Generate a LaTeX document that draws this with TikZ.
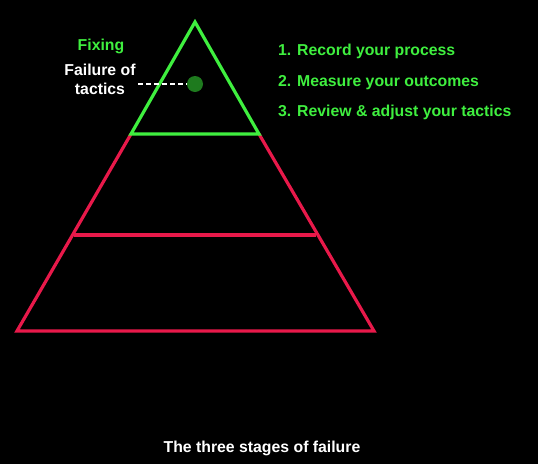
\documentclass[tikz,border=0pt]{standalone}
\usepackage{fontspec}
\setmainfont{Liberation Sans}
\definecolor{gr}{HTML}{3FEF3F}
\definecolor{rd}{HTML}{E8194A}
\definecolor{dot}{HTML}{1E7A1E}
\begin{document}
\begin{tikzpicture}[x=1pt,y=-1pt,
  green line/.style={draw=gr,line width=3.2pt,line join=miter},
  red line/.style={draw=rd,line width=3.2pt,line join=miter},
  txt/.style={font=\fontsize{15.8}{19}\selectfont\bfseries,inner sep=0pt},
  lbl/.style={txt,anchor=base west}]
\fill[black] (0,0) rectangle (538,464);
\useasboundingbox (0,0) rectangle (538,464);
\coordinate (apex) at (195,22);
\coordinate (gl) at (131,134);
\coordinate (gr) at (259,134);
\coordinate (ml) at (74,235);
\coordinate (mr) at (316,235);
\coordinate (bl) at (17,331);
\coordinate (br) at (374,331);
\draw[red line] (gl) -- (bl) -- (br) -- (gr);
\draw[red line] (ml) -- (mr);
\draw[green line] (apex) -- (gl) -- (gr) -- cycle;
\coordinate (dc) at (195,84);
\coordinate (dstart) at (138,84);
\draw[white,line width=1.5pt,dash pattern=on 5pt off 3pt] (dstart) -- (dc);
\node[circle,fill=dot,minimum size=16pt,inner sep=0pt] (d) at (dc) {};
\node[txt,text=gr] (fix) at (101,46) {Fixing};
\node[txt,text=white,align=center] (fot) at (100,79) {Failure of\\tactics};
\node[lbl,text=gr] (l1) at (278,55.5) {1. Record your process};
\node[lbl,text=gr] (l2) at (278,86) {2. Measure your outcomes};
\node[lbl,text=gr] (l3) at (278,116.5) {3. Review \& adjust your tactics};
\node[txt,text=white] (cap) at (262,448) {The three stages of failure};
\end{tikzpicture}
\end{document}
